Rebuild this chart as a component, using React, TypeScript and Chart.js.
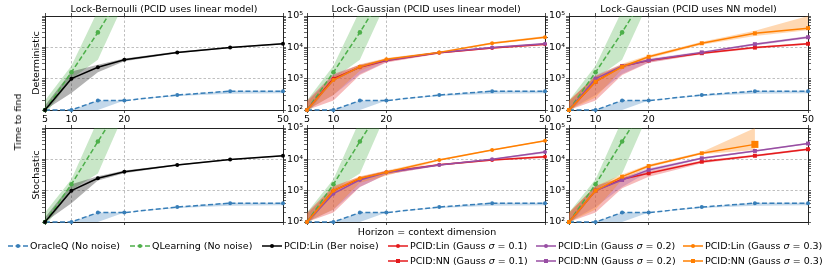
import React, { useEffect, useRef } from 'react';
import { Chart, registerables } from 'chart.js';

Chart.register(...registerables);
Chart.defaults.font.family = '"DejaVu Sans", sans-serif';
Chart.defaults.font.size = 9.5;
Chart.defaults.color = '#000';

// ---------------- data ----------------
const HORIZONS = [5, 10, 15, 20, 30, 40, 50];
const X_TICKS = [5, 10, 20, 50];
const Y_DECADES = [100, 1000, 10000, 100000];
const Y_LABELS = ['10²', '10³', '10⁴', '10⁵'];
const Y_ALL_TICKS = [100, 200, 300, 400, 500, 600, 700, 800, 900, 1000, 2000, 3000, 4000, 5000, 6000, 7000, 8000, 9000,
  10000, 20000, 30000, 40000, 50000, 60000, 70000, 80000, 90000, 100000];

const COL_TITLES = ['Lock-Bernoulli (PCID uses linear model)', 'Lock-Gaussian (PCID uses linear model)', 'Lock-Gaussian (PCID uses NN model)'];
const ROW_TITLES = ['Deterministic', 'Stochastic'];
const Y_TITLE = 'Time to find';
const X_TITLE = 'Horizon = context dimension';

// OracleQ (No noise) — identical in all panels
const ORACLEQ = [100, 100, 200, 200, 300, 400, 400];
const ORACLEQ_LO = [100, 100, 100, 200, 280, 330, 340];
const ORACLEQ_HI = [100, 100, 200, 200, 300, 410, 410];

// QLearning (No noise)
const QL_DET = [100, 1600, 30000, 700000];
const QL_DET_LO = [70, 1000, 4000, 280000];
const QL_DET_HI = [200, 2600, 150000, 5000000];
const QL_STO = [100, 1600, 37000, 800000];
const QL_STO_LO = [70, 1050, 3500, 300000];
const QL_STO_HI = [200, 2300, 180000, 5000000];

// PCID:Lin (Ber noise)
const BER_DET = [100, 1000, 2300, 4000, 6900, 9800, 13000];
const BER_DET_LO = [100, 350, 1600, 3600, 6500, 9300, 12300];
const BER_DET_HI = [140, 1700, 2800, 4400, 7300, 10300, 13700];
const BER_STO = [100, 1000, 2500, 4000, 6600, 9800, 13000];
const BER_STO_LO = [100, 400, 2100, 3600, 6300, 9400, 12400];
const BER_STO_HI = [140, 1600, 2900, 4400, 7000, 10200, 13600];

// PCID:Lin (Gauss) — deterministic
const LIN1_DET = [100, 1000, 2300, 3800, 6700, 9500, 12500];
const LIN1_DET_LO = [100, 200, 1300, 3300, 6200, 9000, 11500];
const LIN1_DET_HI = [200, 1400, 2800, 4200, 7100, 10000, 13500];
const LIN2_DET = [100, 900, 2400, 3900, 6800, 9800, 13000];
const LIN2_DET_LO = [100, 300, 1400, 3400, 6300, 9200, 12000];
const LIN2_DET_HI = [180, 1300, 2800, 4300, 7200, 10400, 14000];
const LIN3_DET = [100, 900, 2400, 4200, 6900, 13500, 21000];
const LIN3_DET_LO = [100, 300, 1800, 3800, 6500, 12500, 19500];
const LIN3_DET_HI = [180, 1200, 2900, 4600, 7300, 14500, 23000];

// PCID:Lin (Gauss) — stochastic
const LIN1_STO = [100, 1000, 2400, 3900, 6700, 9500, 12000];
const LIN1_STO_LO = [100, 200, 1300, 3300, 6200, 9000, 11000];
const LIN1_STO_HI = [200, 1400, 2800, 4300, 7200, 10000, 13000];
const LIN2_STO = [100, 800, 2200, 3800, 6600, 10000, 17000];
const LIN2_STO_LO = [100, 250, 1300, 3300, 6200, 9500, 15500];
const LIN2_STO_HI = [180, 1200, 2700, 4300, 7000, 10500, 18500];
const LIN3_STO = [100, 1000, 2500, 3900, 9600, 20000, 39000];
const LIN3_STO_LO = [100, 250, 1800, 3000, 9000, 19000, 37000];
const LIN3_STO_HI = [180, 1300, 2900, 4400, 10200, 21000, 41000];

// PCID:NN (Gauss) — deterministic
const NN1_DET = [100, 800, 2500, 3800, 6500, 9800, 13000];
const NN1_DET_LO = [100, 200, 1300, 3200, 6000, 9000, 12000];
const NN1_DET_HI = [200, 1200, 2800, 4200, 7000, 10500, 14000];
const NN2_DET = [100, 1000, 2500, 3900, 6900, 12600, 21000];
const NN2_DET_LO = [100, 300, 1400, 3300, 6400, 11500, 19000];
const NN2_DET_HI = [180, 1300, 2900, 4400, 7400, 13500, 23000];
const NN3_DET = [100, 800, 2400, 5000, 13500, 28000, 41000];
const NN3_DET_LO = [100, 250, 2000, 4400, 12000, 23000, 35000];
const NN3_DET_HI = [200, 1200, 3000, 5600, 15000, 34000, 100000];

// PCID:NN (Gauss) — stochastic
const NN1_STO = [100, 1000, 2300, 3600, 8400, 13000, 21000];
const NN1_STO_LO = [100, 200, 1200, 2800, 7500, 12000, 19500];
const NN1_STO_HI = [200, 1400, 2700, 4200, 9200, 14000, 22500];
const NN2_STO = [100, 1000, 2200, 4600, 10800, 18500, 32000];
const NN2_STO_LO = [100, 300, 1300, 4000, 10000, 17500, 30500];
const NN2_STO_HI = [180, 1400, 2600, 5200, 11600, 19500, 33500];
const NN3_STO = [100, 1000, 2800, 6100, 15600, 30000];
const NN3_STO_LO = [100, 250, 2200, 5500, 14500, 20000];
const NN3_STO_HI = [200, 1400, 3300, 6800, 17000, 100000];

// ---------------- styles ----------------
const BLUE = '#377eb8';
const GREEN = '#4daf4a';
const BLACK = '#000000';
const RED = '#e41a1c';
const PURPLE = '#984ea3';
const ORANGE = '#ff7f00';

const W = 830;
const H = 275;
const COL_LEFT = [45, 307, 569];
const COL_RIGHT = [283, 545, 808];
const ROW_TOP = [16, 128];
const ROW_BOTTOM = [110, 222];
const Y_AXIS_W = 26;
const X_AXIS_H = 18;
const SIDE = 4;

type Series = {
  mean: (number | null)[];
  lo: (number | null)[];
  hi: (number | null)[];
  color: string;
  dashed?: boolean;
  marker: 'circle' | 'rect';
  radius: number;
  order: number;
  alpha: number;
  bigLast?: boolean;
  clipTop?: boolean;
};

const oracle: Series = { mean: ORACLEQ, lo: ORACLEQ_LO, hi: ORACLEQ_HI, color: BLUE, dashed: true, marker: 'circle', radius: 2, order: 7, alpha: 0.3 };
const ql = (m, lo, hi): Series => ({ mean: m, lo, hi, color: GREEN, dashed: true, marker: 'circle', radius: 2.3, order: 6, alpha: 0.3, clipTop: true });
const ber = (m, lo, hi): Series => ({ mean: m, lo, hi, color: BLACK, marker: 'circle', radius: 2, order: 5, alpha: 0.3 });
const mk = (m, lo, hi, color, marker, order, bigLast = false): Series => ({ mean: m, lo, hi, color, marker, radius: marker === 'rect' ? 2.8 : 2, order, alpha: 0.3, bigLast });

const PANELS = [
  { row: 0, col: 0, series: [oracle, ql(QL_DET, QL_DET_LO, QL_DET_HI), ber(BER_DET, BER_DET_LO, BER_DET_HI)] },
  { row: 0, col: 1, series: [oracle, ql(QL_DET, QL_DET_LO, QL_DET_HI),
    mk(LIN1_DET, LIN1_DET_LO, LIN1_DET_HI, RED, 'circle', 4), mk(LIN2_DET, LIN2_DET_LO, LIN2_DET_HI, PURPLE, 'circle', 3), mk(LIN3_DET, LIN3_DET_LO, LIN3_DET_HI, ORANGE, 'circle', 2)] },
  { row: 0, col: 2, series: [oracle, ql(QL_DET, QL_DET_LO, QL_DET_HI),
    mk(NN1_DET, NN1_DET_LO, NN1_DET_HI, RED, 'rect', 4), mk(NN2_DET, NN2_DET_LO, NN2_DET_HI, PURPLE, 'rect', 3), mk(NN3_DET, NN3_DET_LO, NN3_DET_HI, ORANGE, 'rect', 2)] },
  { row: 1, col: 0, series: [oracle, ql(QL_STO, QL_STO_LO, QL_STO_HI), ber(BER_STO, BER_STO_LO, BER_STO_HI)] },
  { row: 1, col: 1, series: [oracle, ql(QL_STO, QL_STO_LO, QL_STO_HI),
    mk(LIN1_STO, LIN1_STO_LO, LIN1_STO_HI, RED, 'circle', 4), mk(LIN2_STO, LIN2_STO_LO, LIN2_STO_HI, PURPLE, 'circle', 3), mk(LIN3_STO, LIN3_STO_LO, LIN3_STO_HI, ORANGE, 'circle', 2)] },
  { row: 1, col: 2, series: [oracle, ql(QL_STO, QL_STO_LO, QL_STO_HI),
    mk(NN1_STO, NN1_STO_LO, NN1_STO_HI, RED, 'rect', 4), mk(NN2_STO, NN2_STO_LO, NN2_STO_HI, PURPLE, 'rect', 3), mk(NN3_STO, NN3_STO_LO, NN3_STO_HI, ORANGE, 'rect', 2, true)] },
];

const LEGEND_ITEMS = [
  { label: 'OracleQ (No noise)', color: BLUE, dashed: true, marker: 'circle' },
  { label: 'QLearning (No noise)', color: GREEN, dashed: true, marker: 'circle' },
  { label: 'PCID:Lin (Ber noise)', color: BLACK, dashed: false, marker: 'circle' },
  { label: 'PCID:Lin (Gauss σ = 0.1)', color: RED, dashed: false, marker: 'circle' },
  { label: 'PCID:Lin (Gauss σ = 0.2)', color: PURPLE, dashed: false, marker: 'circle' },
  { label: 'PCID:Lin (Gauss σ = 0.3)', color: ORANGE, dashed: false, marker: 'circle' },
  { label: 'PCID:NN (Gauss σ = 0.1)', color: RED, dashed: false, marker: 'rect' },
  { label: 'PCID:NN (Gauss σ = 0.2)', color: PURPLE, dashed: false, marker: 'rect' },
  { label: 'PCID:NN (Gauss σ = 0.3)', color: ORANGE, dashed: false, marker: 'rect' },
];
const LEGEND_POS = [[8, 246], [130, 246], [262, 246], [388, 246], [536, 246], [683, 246], [388, 261], [536, 261], [683, 261]];

// ---------------- helpers ----------------
function rgba(hex: string, a: number) {
  const n = parseInt(hex.slice(1), 16);
  return `rgba(${(n >> 16) & 255},${(n >> 8) & 255},${n & 255},${a})`;
}

function points(vals: (number | null)[]) {
  const out: { x: number; y: number }[] = [];
  vals.forEach((v, i) => {
    if (v != null) out.push({ x: HORIZONS[i], y: v });
  });
  return out;
}

function buildDatasets(list: Series[]) {
  const ds: any[] = [];
  list.forEach((s) => {
    ds.push({ data: points(s.lo), borderWidth: 0, borderColor: 'rgba(0,0,0,0)', pointRadius: 0, fill: false, order: 20 + s.order });
    ds.push({ data: points(s.hi), borderWidth: 0, borderColor: 'rgba(0,0,0,0)', pointRadius: 0, fill: '-1', backgroundColor: rgba(s.color, s.alpha), order: 20 + s.order });
  });
  list.forEach((s) => {
    const pts = points(s.mean);
    ds.push({
      data: pts,
      borderColor: s.color,
      borderWidth: 1.5,
      borderDash: s.dashed ? [5, 2.5] : [],
      pointStyle: s.marker,
      pointRadius: pts.map((_, i) => (s.bigLast && i === pts.length - 1 ? 5 : s.radius)),
      pointBackgroundColor: s.color,
      pointBorderColor: s.color,
      pointBorderWidth: 0,
      fill: false,
      tension: 0,
      order: s.order,
      clip: s.clipTop ? { left: 6, right: 6, top: 0, bottom: 6 } : 6,
    });
  });
  return ds;
}

const panelText = {
  id: 'panelText',
  afterDraw(chart: any, _args: any, opts: any) {
    const { ctx, chartArea: a } = chart;
    ctx.save();
    ctx.fillStyle = '#000';
    ctx.font = '9.5px "DejaVu Sans", sans-serif';
    ctx.textBaseline = 'alphabetic';
    ctx.textAlign = 'center';
    if (opts.title) ctx.fillText(opts.title, (a.left + a.right) / 2, a.top - 4.5);
    if (opts.rowLabel) {
      ctx.translate(a.left - 6.5, (a.top + a.bottom) / 2);
      ctx.rotate(-Math.PI / 2);
      ctx.fillText(opts.rowLabel, 0, 0);
    }
    ctx.restore();
  },
};

const GRID_COLOR = '#b0b0b0';
const SPINE = '#222';

function makeConfig(p: typeof PANELS[number]) {
  const { row, col } = p;
  const xh = row === 0 ? X_AXIS_H : SIDE;
  const fixW = (w: number) => (s: any) => { s.width = w; s.paddingTop = 0; s.paddingBottom = 0; s.paddingLeft = 0; s.paddingRight = 0; };
  const fixH = (h: number) => (s: any) => { s.height = h; s.paddingTop = 0; s.paddingBottom = 0; s.paddingLeft = 0; s.paddingRight = 0; };
  const xTicks = (s: any) => { s.ticks = X_TICKS.map((v) => ({ value: v })); };
  const yTicks = (s: any) => { s.ticks = Y_ALL_TICKS.map((v) => ({ value: v })); };
  const yLabel = (v: number) => { const i = Y_DECADES.indexOf(v); return i >= 0 ? Y_LABELS[i] : ''; };
  const xGrid = (c: any) => (c.tick && (c.tick.value === 10 || c.tick.value === 20) ? GRID_COLOR : 'rgba(0,0,0,0)');
  const yGrid = (c: any) => (c.tick && (c.tick.value === 1000 || c.tick.value === 10000) ? GRID_COLOR : 'rgba(0,0,0,0)');
  return {
    type: 'line',
    data: { datasets: buildDatasets(p.series) },
    plugins: [panelText],
    options: {
      responsive: false,
      animation: false,
      events: [],
      parsing: true,
      layout: {
        padding: {
          left: COL_LEFT[col] - Y_AXIS_W,
          right: W - COL_RIGHT[col] - SIDE,
          top: ROW_TOP[row] - SIDE,
          bottom: H - ROW_BOTTOM[row] - xh,
        },
      },
      plugins: {
        legend: { display: false },
        tooltip: { enabled: false },
        title: { display: false },
        panelText: { title: row === 0 ? COL_TITLES[col] : '', rowLabel: col === 0 ? ROW_TITLES[row] : '' },
      },
      scales: {
        x: {
          type: 'linear', min: 5, max: 50, position: 'bottom',
          afterBuildTicks: xTicks, afterFit: fixH(xh),
          ticks: { display: row === 0, padding: 1, maxRotation: 0, autoSkip: false, color: '#000', callback: (v: number) => String(v) },
          grid: { color: xGrid, lineWidth: 0.8, tickLength: 3, tickColor: SPINE, tickWidth: 0.8 },
          border: { color: SPINE, width: 1, dash: [2.5, 2] },
        },
        x2: {
          type: 'linear', min: 5, max: 50, position: 'top',
          afterBuildTicks: xTicks, afterFit: fixH(SIDE),
          ticks: { display: false },
          grid: { drawOnChartArea: false, tickLength: 3, tickColor: SPINE, tickWidth: 0.8 },
          border: { color: SPINE, width: 1 },
        },
        y: {
          type: 'logarithmic', min: 100, max: 100000, position: 'left',
          afterBuildTicks: yTicks, afterFit: fixW(Y_AXIS_W),
          ticks: { display: col > 0, padding: 1, autoSkip: false, color: '#000', callback: yLabel },
          grid: { color: yGrid, lineWidth: 0.8, tickLength: 3, tickColor: SPINE, tickWidth: 0.7 },
          border: { color: SPINE, width: 1, dash: [2.5, 2] },
        },
        y2: {
          type: 'logarithmic', min: 100, max: 100000, position: 'right',
          afterBuildTicks: yTicks, afterFit: fixW(SIDE),
          ticks: { display: false },
          grid: { drawOnChartArea: false, tickLength: 3, tickColor: SPINE, tickWidth: 0.7 },
          border: { color: SPINE, width: 1 },
        },
      },
    },
  };
}

function Panel({ spec }: { spec: typeof PANELS[number] }) {
  const ref = useRef<HTMLCanvasElement>(null);
  useEffect(() => {
    const chart = new Chart(ref.current as HTMLCanvasElement, makeConfig(spec) as any);
    return () => chart.destroy();
  }, [spec]);
  return <canvas ref={ref} width={W} height={H} style={{ position: 'absolute', left: 0, top: 0, width: W, height: H }} />;
}

function LegendLabel({ text }: { text: string }) {
  const parts = text.split('σ');
  if (parts.length === 1) return <span>{text}</span>;
  return (
    <span>
      {parts[0]}
      <i>σ</i>
      {parts[1]}
    </span>
  );
}

function Handle({ color, dashed, marker }: { color: string; dashed: boolean; marker: string }) {
  return (
    <svg width={20} height={10} style={{ display: 'block', flex: 'none' }}>
      <line x1={0} y1={5} x2={20} y2={5} stroke={color} strokeWidth={1.5} strokeDasharray={dashed ? '5 2.5' : undefined} />
      {marker === 'rect' ? <rect x={8} y={3} width={4} height={4} fill={color} /> : <circle cx={10} cy={5} r={2} fill={color} />}
    </svg>
  );
}

const TEXT_STYLE: React.CSSProperties = {
  position: 'absolute',
  fontFamily: '"DejaVu Sans", sans-serif',
  fontSize: 9.5,
  lineHeight: '12px',
  color: '#000',
  whiteSpace: 'nowrap',
};

export default function App() {
  return (
    <div style={{ position: 'absolute', left: 0, top: 0, width: W, height: H, background: '#fff', overflow: 'hidden' }}>
      {PANELS.map((p, i) => (
        <Panel key={i} spec={p} />
      ))}
      <div style={{ ...TEXT_STYLE, left: 18, top: 122, transform: 'translate(-50%, -50%) rotate(-90deg)' }}>{Y_TITLE}</div>
      <div style={{ ...TEXT_STYLE, left: 427, top: 232, transform: 'translate(-50%, -50%)' }}>{X_TITLE}</div>
      {LEGEND_ITEMS.map((it, i) => (
        <div key={i} style={{ ...TEXT_STYLE, left: LEGEND_POS[i][0], top: LEGEND_POS[i][1] - 6, height: 12, display: 'flex', alignItems: 'center' }}>
          <Handle color={it.color} dashed={it.dashed} marker={it.marker} />
          <span style={{ marginLeft: 2 }}>
            <LegendLabel text={it.label} />
          </span>
        </div>
      ))}
    </div>
  );
}
